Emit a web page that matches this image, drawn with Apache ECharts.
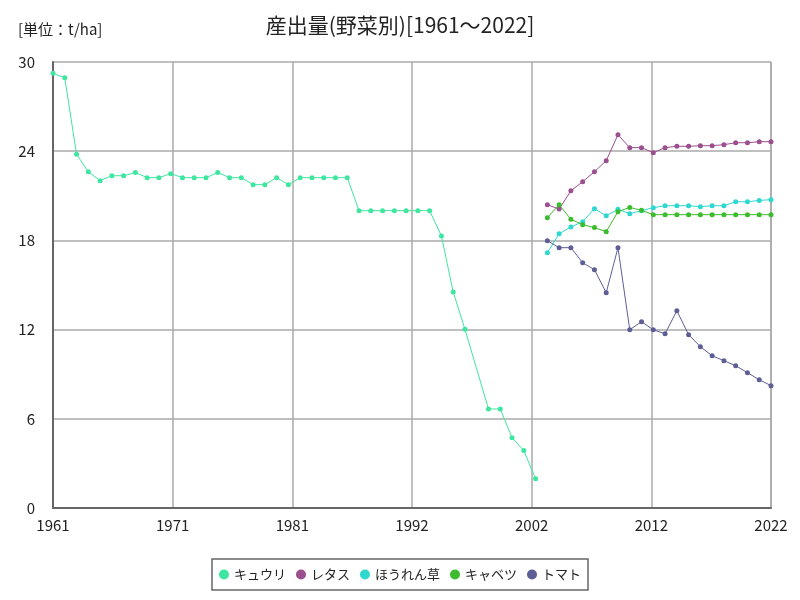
<!DOCTYPE html>
<html><head><meta charset="utf-8">
<script src="https://cdn.jsdelivr.net/npm/echarts@6/dist/echarts.min.js"></script>
<style>html,body{margin:0;padding:0;background:#fff}#c{width:800px;height:600px}</style>
</head><body><div id="c"></div>
<script>
const startYear = 1961, endYear = 2022;
const cucumberYears = [1961,1962,1963,1964,1965,1966,1967,1968,1969,1970,1971,1972,1973,1974,1975,1976,1977,1978,1979,1980,1981,1982,1983,1984,1985,1986,1987,1988,1989,1990,1991,1992,1993,1994,1995,1996,1998,1999,2000,2001,2002];
const cucumber = [29.24,28.94,23.79,22.62,22.02,22.35,22.35,22.56,22.22,22.22,22.49,22.22,22.22,22.22,22.56,22.22,22.22,21.75,21.75,22.22,21.75,22.22,22.22,22.22,22.22,22.22,20.0,20.0,20.0,20.0,20.0,20.0,20.0,18.3,14.53,12.02,6.66,6.66,4.73,3.86,1.97];
const recentYears = [2003,2004,2005,2006,2007,2008,2009,2010,2011,2012,2013,2014,2015,2016,2017,2018,2019,2020,2021,2022];
const lettuce = [20.40,20.11,21.34,21.95,22.62,23.36,25.11,24.24,24.24,23.90,24.24,24.33,24.33,24.37,24.37,24.44,24.57,24.57,24.64,24.64];
const spinach = [17.17,18.45,18.90,19.26,20.13,19.66,20.09,19.80,20.00,20.20,20.33,20.33,20.33,20.27,20.33,20.33,20.60,20.60,20.69,20.74];
const cabbage = [19.53,20.40,19.42,19.06,18.86,18.59,19.93,20.22,20.02,19.73,19.73,19.73,19.73,19.73,19.73,19.73,19.73,19.73,19.73,19.73];
const tomato = [17.98,17.51,17.51,16.50,16.03,14.48,17.51,11.99,12.53,11.99,11.72,13.27,11.66,10.85,10.24,9.91,9.57,9.10,8.63,8.23];
const seriesNames = ['キュウリ','レタス','ほうれん草','キャベツ','トマト'];
const colors = ['#3ee6a0','#9b4f8e','#2ed8d0','#3cbb2c','#5e5e96'];

const pairs = (years, vals) => years.map((y, i) => [y - startYear, vals[i]]);
const span = endYear - startYear;
const font = '"Noto Sans CJK JP", "Noto Sans", sans-serif';

const chart = echarts.init(document.getElementById('c'));
const mk = (name, data, color) => ({
  name, type: 'line', data, color,
  symbol: 'circle', symbolSize: 5, showSymbol: true,
  lineStyle: { width: 1, color }, itemStyle: { color },
  animation: false
});
chart.setOption({
  animation: false,
  title: [
    { text: '産出量(野菜別)[1961〜2022]', left: 'center', top: 10, textStyle: { fontFamily: font, fontSize: 21, fontWeight: 'normal', color: '#222' } },
    { text: '[単位：t/ha]', left: 13, top: 17, textStyle: { fontFamily: font, fontSize: 15, fontWeight: 'normal', color: '#222' } }
  ],
  legend: {
    data: seriesNames, bottom: 10, left: 'center',
    icon: 'circle', itemWidth: 10, itemHeight: 10, itemGap: 10,
    borderColor: '#666', borderWidth: 1.5, padding: [9, 7],
    textStyle: { fontFamily: font, fontSize: 13, color: '#222' }
  },
  grid: { left: 53, right: 29, top: 62, bottom: 92, containLabel: false },
  xAxis: {
    type: 'value', min: 0, max: span, interval: span / 6,
    axisLine: { show: true, lineStyle: { color: '#666', width: 2 } },
    axisTick: { show: false },
    splitLine: { show: true, lineStyle: { color: '#aaa', width: 1.5 } },
    axisLabel: { fontFamily: font, fontSize: 15, color: '#222', margin: 10, formatter: v => String(Math.round(startYear + v)), showMaxLabel: true }
  },
  yAxis: {
    type: 'value', min: 0, max: 30, interval: 6,
    axisLine: { show: true, lineStyle: { color: '#666', width: 2 } },
    axisTick: { show: false },
    splitLine: { show: true, lineStyle: { color: '#aaa', width: 1.5 } },
    axisLabel: { fontFamily: font, fontSize: 15, color: '#222', margin: 18 }
  },
  series: [
    mk(seriesNames[0], pairs(cucumberYears, cucumber), colors[0]),
    mk(seriesNames[1], pairs(recentYears, lettuce), colors[1]),
    mk(seriesNames[2], pairs(recentYears, spinach), colors[2]),
    mk(seriesNames[3], pairs(recentYears, cabbage), colors[3]),
    mk(seriesNames[4], pairs(recentYears, tomato), colors[4])
  ]
});
</script></body></html>
